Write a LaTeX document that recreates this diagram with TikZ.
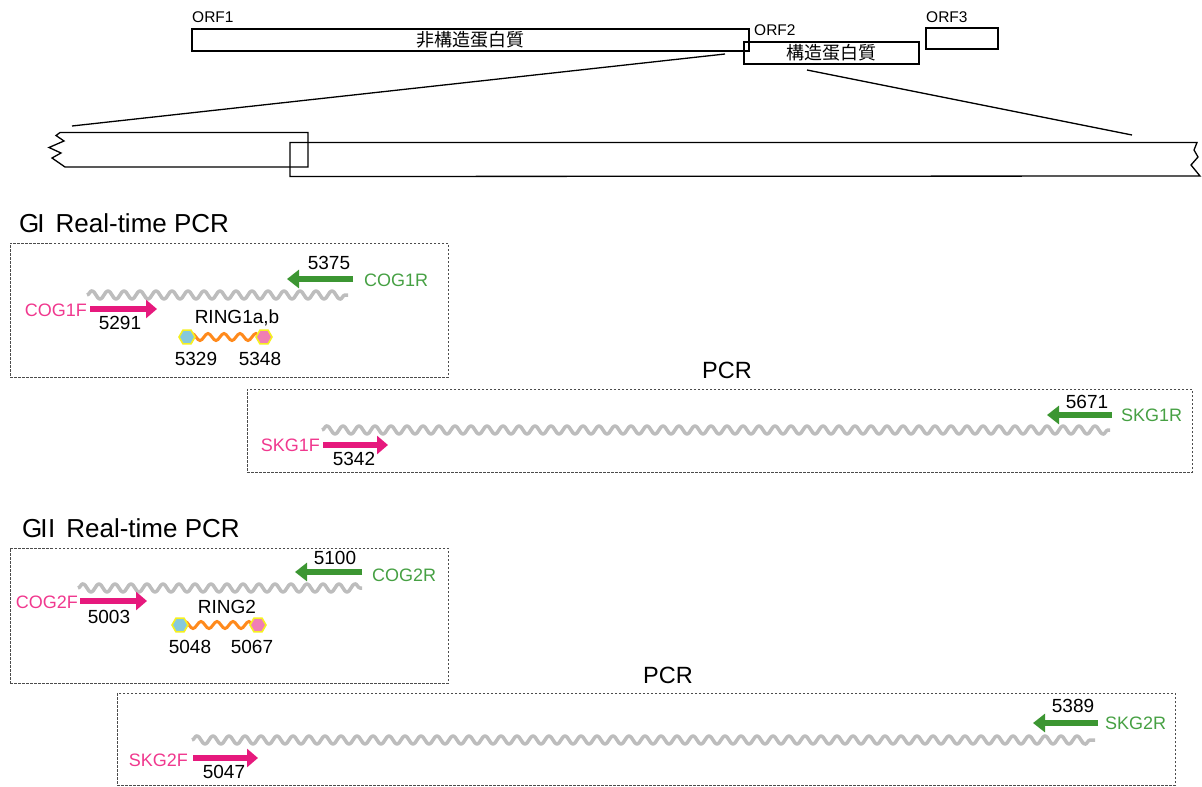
\documentclass[tikz,border=0pt]{standalone}
\usepackage{fontspec}
\setmainfont{Liberation Sans}
\newfontfamily\cjkfont{Noto Sans CJK JP}
\usetikzlibrary{arrows.meta,decorations.pathmorphing,shapes.geometric}
\definecolor{fwdpink}{HTML}{E6197D}
\definecolor{lblpink}{HTML}{F0388E}
\definecolor{revgreen}{HTML}{3C9632}
\definecolor{lblgreen}{HTML}{46A043}
\definecolor{wavegray}{HTML}{BDBDBD}
\definecolor{probeorange}{HTML}{FF8A1C}
\definecolor{dyecyan}{HTML}{86C8DC}
\definecolor{qpink}{HTML}{F07EB4}
\definecolor{ringyellow}{HTML}{F5F020}
\begin{document}
\begin{tikzpicture}[x=1pt,y=-1pt,
  orfbox/.style={draw, line width=1.2pt, inner sep=0pt},
  orflbl/.style={font=\fontsize{15.5}{16}\selectfont, inner sep=0pt, anchor=west},
  cjk/.style={font=\cjkfont\fontsize{18}{19}\selectfont},
  outline/.style={draw, line width=1.3pt},
  zoomline/.style={draw, line width=1.3pt},
  dashbox/.style={draw=black!70, line width=0.9pt, dash pattern=on 2.5pt off 1.5pt},
  title/.style={font=\fontsize{26}{28}\selectfont, inner sep=0pt, anchor=west},
  pcrlbl/.style={font=\fontsize{23.5}{25}\selectfont, inner sep=0pt},
  num/.style={font=\fontsize{19}{20}\selectfont, inner sep=0pt},
  fwdlbl/.style={font=\fontsize{18}{19}\selectfont, inner sep=0pt, text=lblpink, anchor=east},
  revlbl/.style={font=\fontsize{18}{19}\selectfont, inner sep=0pt, text=lblgreen, anchor=west},
  template/.style={draw=wavegray, line width=3.5pt, line join=round, decorate, decoration={snake, segment length=16pt, amplitude=4.2pt}},
  probe/.style={draw=probeorange, line width=3pt, decorate, decoration={snake, segment length=16pt, amplitude=3.5pt}},
  fwd/.style={draw=fwdpink, line width=6pt, -{Triangle[length=11pt,width=18pt]}},
  rev/.style={draw=revgreen, line width=6pt, -{Triangle[length=12pt,width=18pt]}},
  dye/.style={regular polygon, regular polygon sides=6, minimum size=16pt, inner sep=0pt, fill=dyecyan, draw=ringyellow, line width=1.6pt},
  quench/.style={regular polygon, regular polygon sides=6, minimum size=16pt, inner sep=0pt, fill=qpink, draw=ringyellow, line width=1.6pt}
]
\useasboundingbox (0,0) rectangle (1202,787);

% ---------- genome overview ----------
\node[orflbl] (orf1l) at (192,17) {ORF1};
\node[orflbl] (orf2l) at (754,30) {ORF2};
\node[orflbl] (orf3l) at (926,17) {ORF3};
\node[orfbox, minimum width=175pt, minimum height=22pt, cjk] (orf2) at (831.5,53) {構造蛋白質};
\node[orfbox, minimum width=557pt, minimum height=22pt, cjk] (orf1) at (470.5,40) {非構造蛋白質};
\node[orfbox, minimum width=72pt, minimum height=21pt] (orf3) at (962,38.5) {};

\coordinate (zl0) at (725,54);
\coordinate (zl1) at (72,126);
\coordinate (zr0) at (807,70);
\coordinate (zr1) at (1132,135);
\draw[zoomline] (zl0) -- (zl1);
\draw[zoomline] (zr0) -- (zr1);

% expanded boxes
\draw[outline] (60,132.5) -- (308,132.5) -- (308,167) -- (65,167) -- (52,158) -- (61,153) -- (49,147.5) -- (64,141) -- (56,135.5) -- cycle;
\draw[outline] (290,142.5) -- (1197,142.5) -- (1194,150) -- (1198,157) -- (1191,165) -- (1200,176) -- (290,176.5) -- cycle;

% ---------- GI real-time PCR ----------
\node[title] (t1) at (19,223) {G\kern-2pt I\hspace{11pt}Real-time PCR};
\node[dashbox, minimum width=438pt, minimum height=134pt, inner sep=0pt] (box1) at (229,310) {};
\coordinate (w1a) at (87,295);
\coordinate (w1b) at (348,295);
\draw[template] (w1a) -- (w1b);
\coordinate (r1a) at (353,279);
\coordinate (r1b) at (287,279);
\draw[rev] (r1a) -- (r1b);
\node[num] (n5375) at (329,263) {5375};
\node[revlbl] (cog1r) at (364,280) {COG1R};
\coordinate (f1a) at (90,309);
\coordinate (f1b) at (157,309);
\draw[fwd] (f1a) -- (f1b);
\node[fwdlbl] (cog1f) at (87,310) {COG1F};
\node[num] (n5291) at (120,323) {5291};
\node[num] (ring1) at (237,318) {RING1a,b};
\coordinate (p1a) at (187,337);
\coordinate (p1b) at (264,337);
\draw[probe] (p1a) -- (p1b);
\node[dye] (d1) at (p1a) {};
\node[quench] (q1) at (p1b) {};
\node[num] (n5329) at (196,359) {5329};
\node[num] (n5348) at (260,359) {5348};

% ---------- GI PCR ----------
\node[pcrlbl] (pcr1) at (727,370) {PCR};
\node[dashbox, minimum width=945pt, minimum height=83pt, inner sep=0pt] (box2) at (719.5,430.5) {};
\coordinate (w2a) at (322,430);
\coordinate (w2b) at (1110,430);
\draw[template] (w2a) -- (w2b);
\coordinate (f2a) at (323,445);
\coordinate (f2b) at (388,445);
\draw[fwd] (f2a) -- (f2b);
\node[fwdlbl] (skg1f) at (320,445) {SKG1F};
\node[num] (n5342) at (354,459) {5342};
\coordinate (r2a) at (1112,415);
\coordinate (r2b) at (1047,415);
\draw[rev] (r2a) -- (r2b);
\node[num] (n5671) at (1087,402) {5671};
\node[revlbl] (skg1r) at (1121,415) {SKG1R};

% ---------- GII real-time PCR ----------
\node[title] (t2) at (22,528) {G\kern-2pt I\kern0.5pt I\hspace{11pt}Real-time PCR};
\node[dashbox, minimum width=438pt, minimum height=135pt, inner sep=0pt] (box3) at (229,615.5) {};
\coordinate (w3a) at (78,588);
\coordinate (w3b) at (362,588);
\draw[template] (w3a) -- (w3b);
\coordinate (r3a) at (362,572);
\coordinate (r3b) at (295,572);
\draw[rev] (r3a) -- (r3b);
\node[num] (n5100) at (335,558) {5100};
\node[revlbl] (cog2r) at (372,575) {COG2R};
\coordinate (f3a) at (80,601);
\coordinate (f3b) at (147,601);
\draw[fwd] (f3a) -- (f3b);
\node[fwdlbl] (cog2f) at (78,602) {COG2F};
\node[num] (n5003) at (109,617) {5003};
\node[num] (ring2) at (227,607) {RING2};
\coordinate (p2a) at (180,625);
\coordinate (p2b) at (258,625);
\draw[probe] (p2a) -- (p2b);
\node[dye] (d2) at (p2a) {};
\node[quench] (q2) at (p2b) {};
\node[num] (n5048) at (190,647) {5048};
\node[num] (n5067) at (252,647) {5067};

% ---------- GII PCR ----------
\node[pcrlbl] (pcr2) at (668,675) {PCR};
\node[dashbox, minimum width=1058pt, minimum height=92pt, inner sep=0pt] (box4) at (646,739) {};
\coordinate (w4a) at (192,740);
\coordinate (w4b) at (1095,740);
\draw[template] (w4a) -- (w4b);
\coordinate (f4a) at (193,758);
\coordinate (f4b) at (258,758);
\draw[fwd] (f4a) -- (f4b);
\node[fwdlbl] (skg2f) at (188,760) {SKG2F};
\node[num] (n5047) at (224,772) {5047};
\coordinate (r4a) at (1098,723);
\coordinate (r4b) at (1033,723);
\draw[rev] (r4a) -- (r4b);
\node[num] (n5389) at (1073,706) {5389};
\node[revlbl] (skg2r) at (1105,723) {SKG2R};
\end{tikzpicture}
\end{document}
